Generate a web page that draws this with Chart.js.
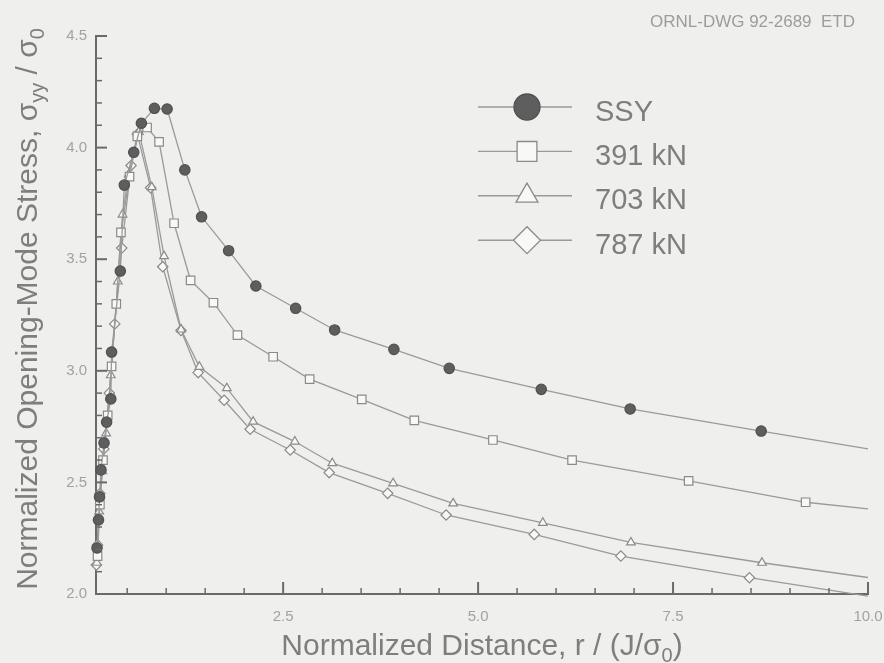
<!DOCTYPE html>
<html>
<head>
<meta charset="utf-8">
<title>Normalized opening-mode stress ahead of the crack tip</title>
<script src="https://cdn.jsdelivr.net/npm/chart.js@4.4.1/dist/chart.umd.min.js"></script>
<style>
  html, body { margin: 0; padding: 0; background: #efefed; }
  #wrap { width: 884px; height: 663px; }
</style>
</head>
<body>
<div id="wrap"><canvas id="stressChart" width="884" height="663"></canvas></div>
<script>
const seriesNames = ['SSY', '391 kN', '703 kN', '787 kN'];

// r / (J/sigma0) and sigma_yy / sigma0 for each case.
// The last entry of every series only carries the curve out to r = 10 (no marker there).
const ssyR = [0.113, 0.132, 0.145, 0.164, 0.203, 0.236, 0.290, 0.300, 0.412, 0.463, 0.584, 0.682,
              0.849, 1.012, 1.239, 1.454, 1.801, 2.150, 2.660, 3.160, 3.920, 4.630, 5.810, 6.950,
              8.630, 10.0];
const ssyS = [2.206, 2.332, 2.435, 2.556, 2.677, 2.770, 2.874, 3.084, 3.447, 3.832, 3.979, 4.109,
              4.176, 4.173, 3.900, 3.690, 3.538, 3.380, 3.280, 3.183, 3.096, 3.011, 2.917, 2.829,
              2.730, 2.650];

const kn391R = [0.120, 0.150, 0.190, 0.250, 0.300, 0.360, 0.420, 0.530, 0.630, 0.755,
                0.909, 1.101, 1.313, 1.606, 1.914, 2.372, 2.840, 3.508, 4.182, 5.190, 6.205,
                7.700, 9.200, 10.0];
const kn391S = [2.170, 2.400, 2.600, 2.800, 3.020, 3.300, 3.620, 3.870, 4.050, 4.090,
                4.026, 3.661, 3.405, 3.305, 3.160, 3.063, 2.963, 2.872, 2.778, 2.690, 2.600,
                2.507, 2.411, 2.381];

const kn703R = [0.110, 0.140, 0.180, 0.230, 0.290, 0.380, 0.440, 0.520, 0.650,
                0.815, 0.973, 1.191, 1.426, 1.778, 2.115, 2.650, 3.130, 3.910, 4.680, 5.830,
                6.960, 8.640, 10.0];
const kn703S = [2.140, 2.370, 2.550, 2.720, 2.980, 3.400, 3.700, 3.880, 4.070,
                3.823, 3.514, 3.185, 3.018, 2.922, 2.772, 2.683, 2.586, 2.496, 2.406, 2.319,
                2.231, 2.140, 2.074];

const kn787R = [0.105, 0.120, 0.150, 0.200, 0.270, 0.340, 0.430, 0.550, 0.630,
                0.800, 0.956, 1.190, 1.410, 1.743, 2.077, 2.590, 3.090, 3.840, 4.590, 5.720,
                6.830, 8.480, 10.0];
const kn787S = [2.130, 2.220, 2.450, 2.650, 2.900, 3.210, 3.550, 3.920, 4.060,
                3.820, 3.466, 3.181, 2.992, 2.868, 2.738, 2.645, 2.544, 2.451, 2.354, 2.267,
                2.170, 2.073, 1.990];

const xLabelTicks = [2.5, 5.0, 7.5, 10.0];
const yLabelTicks = [2.0, 2.5, 3.0, 3.5, 4.0, 4.5];

const FONT = '"Liberation Sans", Arial, Helvetica, sans-serif';
const axisColor = '#6a6a6a';
const lineColor = '#9a9a9a';
const textColor = '#7e7e7e';
const tickColor = '#a2a2a2';
const openFill = '#f8f8f6';
const openEdge = '#8a8a8a';

function series(xs, ys) {
    return xs.map((x, i) => ({ x: x, y: ys[i] }));
}

// marker everywhere except the trailing point
function markerRadius(r) {
    return ctx => (ctx.dataIndex === ctx.dataset.data.length - 1 ? 0 : r);
}

function isOn(list, v) {
    return list.some(t => Math.abs(t - v) < 1e-6);
}

function baseDataset(label, data) {
    return {
        label: label,
        data: data,
        borderColor: lineColor,
        borderWidth: 1.3,
        tension: 0,
        clip: false,
        pointBorderWidth: 1.2,
        pointHoverRadius: 0
    };
}

const datasets = [
    Object.assign(baseDataset(seriesNames[0], series(ssyR, ssyS)), {
        pointStyle: 'circle', pointRadius: markerRadius(5.2), legendRadius: 13,
        pointBackgroundColor: '#5e5e5e', pointBorderColor: '#505050'
    }),
    Object.assign(baseDataset(seriesNames[1], series(kn391R, kn391S)), {
        pointStyle: 'rect', pointRadius: markerRadius(6), legendRadius: 14,
        pointBackgroundColor: openFill, pointBorderColor: openEdge
    }),
    Object.assign(baseDataset(seriesNames[2], series(kn703R, kn703S)), {
        pointStyle: 'triangle', pointRadius: markerRadius(5), legendRadius: 12.7,
        pointBackgroundColor: openFill, pointBorderColor: openEdge
    }),
    Object.assign(baseDataset(seriesNames[3], series(kn787R, kn787S)), {
        pointStyle: 'rectRot', pointRadius: markerRadius(5.2), legendRadius: 13.5,
        pointBackgroundColor: openFill, pointBorderColor: openEdge
    })
];

// text runs like [['σ', false], ['0', true]] - second flag = subscript
function drawRich(ctx, parts, cx, baseY, size) {
    const subSize = Math.round(size * 0.68);
    let total = 0;
    const widths = parts.map(p => {
        ctx.font = (p[1] ? subSize : size) + 'px ' + FONT;
        const w = ctx.measureText(p[0]).width;
        total += w;
        return w;
    });
    let x = cx - total / 2;
    ctx.textAlign = 'left';
    ctx.textBaseline = 'alphabetic';
    parts.forEach((p, i) => {
        ctx.font = (p[1] ? subSize : size) + 'px ' + FONT;
        ctx.fillText(p[0], x, baseY + (p[1] ? size * 0.24 : 0));
        x += widths[i];
    });
}

const decorPlugin = {
    id: 'decor',
    afterDraw(chart) {
        const { ctx, chartArea, scales } = chart;
        const xs = scales.x, ys = scales.y;
        ctx.save();

        // tick marks point into the plot
        ctx.strokeStyle = axisColor;
        xs.ticks.forEach(t => {
            const px = xs.getPixelForValue(t.value);
            const major = isOn(xLabelTicks, t.value);
            ctx.lineWidth = major ? 2 : 1.5;
            ctx.beginPath();
            ctx.moveTo(px, chartArea.bottom);
            ctx.lineTo(px, chartArea.bottom - (major ? 12 : 6));
            ctx.stroke();
        });
        ys.ticks.forEach(t => {
            const py = ys.getPixelForValue(t.value);
            const major = isOn(yLabelTicks, t.value);
            ctx.lineWidth = major ? 2 : 1.5;
            ctx.beginPath();
            ctx.moveTo(chartArea.left, py);
            ctx.lineTo(chartArea.left + (major ? 11 : 6), py);
            ctx.stroke();
        });

        // legend: short line through an enlarged marker, then the name
        chart.data.datasets.forEach((ds, i) => {
            const rowY = 107 + i * 44.4;
            ctx.strokeStyle = lineColor;
            ctx.lineWidth = 1.4;
            ctx.beginPath();
            ctx.moveTo(478, rowY);
            ctx.lineTo(572, rowY);
            ctx.stroke();
            ctx.fillStyle = ds.pointBackgroundColor;
            ctx.strokeStyle = ds.pointBorderColor;
            ctx.lineWidth = 1.3;
            Chart.helpers.drawPoint(ctx, {
                pointStyle: ds.pointStyle, rotation: 0, radius: ds.legendRadius, borderWidth: 1.3
            }, 527, rowY);
            ctx.fillStyle = textColor;
            ctx.font = '29px ' + FONT;
            ctx.textAlign = 'left';
            ctx.textBaseline = 'alphabetic';
            ctx.fillText(ds.label, 595, rowY + 13.5);
        });

        // axis titles
        ctx.fillStyle = textColor;
        drawRich(ctx, [['Normalized Distance, r / (J/σ', false], ['0', true], [')', false]],
            (chartArea.left + chartArea.right) / 2, 655, 30);
        ctx.save();
        ctx.translate(37, 309);
        ctx.rotate(-Math.PI / 2);
        drawRich(ctx, [['Normalized Opening-Mode Stress, σ', false], ['yy', true],
            [' / σ', false], ['0', true]], 0, 0, 30);
        ctx.restore();

        // drawing number
        ctx.fillStyle = '#9c9c9c';
        ctx.font = '17px ' + FONT;
        ctx.textAlign = 'right';
        ctx.textBaseline = 'alphabetic';
        ctx.fillText('ORNL-DWG 92-2689  ETD', 855, 27);

        ctx.restore();
    }
};

const tickFont = { family: 'Liberation Sans', size: 15 };

new Chart(document.getElementById('stressChart'), {
    type: 'line',
    data: { datasets: datasets },
    options: {
        responsive: false,
        animation: false,
        events: [],
        layout: { padding: { top: 36, right: 16, bottom: 0, left: 0 } },
        plugins: {
            legend: { display: false },
            tooltip: { enabled: false }
        },
        scales: {
            x: {
                type: 'linear',
                min: 0.1,
                max: 10,
                border: { display: true, color: axisColor, width: 2 },
                grid: { drawOnChartArea: false, drawTicks: false },
                ticks: {
                    stepSize: 0.5,
                    includeBounds: false,
                    autoSkip: false,
                    maxRotation: 0,
                    padding: 14,
                    color: tickColor,
                    font: tickFont,
                    callback: v => (isOn(xLabelTicks, v) ? v.toFixed(1) : '')
                },
                afterFit: s => { s.height = 69; s.paddingLeft = 0; s.paddingRight = 0; }
            },
            y: {
                type: 'linear',
                min: 2.0,
                max: 4.5,
                border: { display: true, color: axisColor, width: 2 },
                grid: { drawOnChartArea: false, drawTicks: false },
                ticks: {
                    stepSize: 0.1,
                    autoSkip: false,
                    padding: 9,
                    color: tickColor,
                    font: tickFont,
                    callback: v => (isOn(yLabelTicks, v) ? v.toFixed(1) : '')
                },
                afterFit: s => { s.width = 96; s.paddingTop = 0; s.paddingBottom = 0; }
            }
        }
    },
    plugins: [decorPlugin]
});
</script>
</body>
</html>
